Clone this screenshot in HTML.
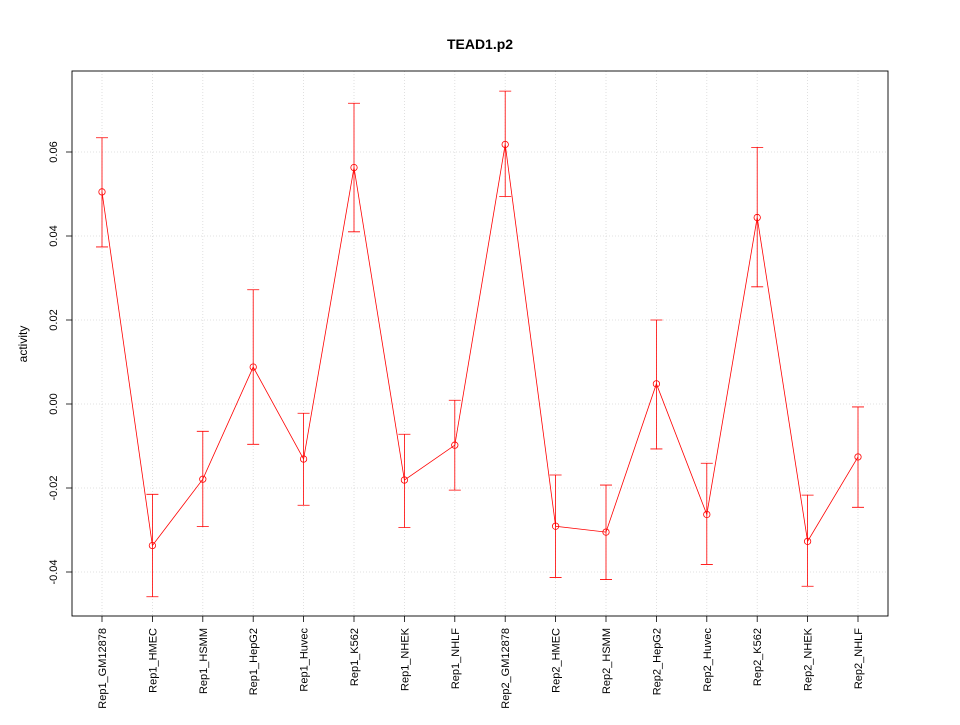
<!DOCTYPE html>
<html><head><meta charset="utf-8"><style>
body{margin:0;background:#fff;}
svg text{font-family:"Liberation Sans",sans-serif;}
</style></head><body>
<svg id="chart" width="960" height="720">
<text x="480" y="49" text-anchor="middle" font-size="14" font-weight="bold">TEAD1.p2</text>
<text transform="translate(27,344) rotate(-90)" text-anchor="middle" font-size="12">activity</text>
<g id="grid"></g><g id="axes"></g><g id="marks"></g>
<rect x="72" y="71" width="816" height="545" fill="none" stroke="#000" stroke-width="0.9"/>
</svg>
<script>
const categories=["Rep1_GM12878","Rep1_HMEC","Rep1_HSMM","Rep1_HepG2","Rep1_Huvec","Rep1_K562","Rep1_NHEK","Rep1_NHLF","Rep2_GM12878","Rep2_HMEC","Rep2_HSMM","Rep2_HepG2","Rep2_Huvec","Rep2_K562","Rep2_NHEK","Rep2_NHLF"];
const values=[0.0505,-0.0337,-0.0179,0.0088,-0.0131,0.0563,-0.0181,-0.0098,0.0618,-0.0291,-0.0305,0.0048,-0.0263,0.0444,-0.0327,-0.0126];
const upper=[0.0634,-0.0215,-0.0065,0.0272,-0.0022,0.0716,-0.0072,0.0009,0.0745,-0.0169,-0.0193,0.0200,-0.0141,0.0611,-0.0217,-0.0007];
const lower=[0.0374,-0.0459,-0.0292,-0.0096,-0.0241,0.0410,-0.0294,-0.0205,0.0494,-0.0413,-0.0418,-0.0107,-0.0382,0.0279,-0.0434,-0.0246];
const yTicks=[-0.04,-0.02,0,0.02,0.04,0.06];
const yTickLabels=["-0.04","-0.02","0.00","0.02","0.04","0.06"];
const NS="http://www.w3.org/2000/svg";
const xs=i=>102+i*(858-102)/(categories.length-1);
const ys=v=>404-v*4200;
function mk(p,t,a){const e=document.createElementNS(NS,t);for(const k in a)e.setAttribute(k,a[k]);p.appendChild(e);return e;}
const grid=document.getElementById('grid'),axes=document.getElementById('axes'),marks=document.getElementById('marks');
yTicks.forEach((v,i)=>{
 const g=mk(grid,'line',{x1:72,x2:888,y1:ys(v),y2:ys(v),stroke:'#d8d8d8','stroke-width':0.8,'stroke-dasharray':'1,2'});
 
 
 const t=mk(axes,'line',{x1:66,x2:72,y1:ys(v),y2:ys(v),stroke:'#000','stroke-width':0.8});
 
 
 const l=mk(axes,'text',{transform:`translate(57,${ys(v)}) rotate(-90)`,'text-anchor':'middle','font-size':'11'});
 l.textContent=yTickLabels[i];
 
 
});
categories.forEach((c,i)=>{
 const x=xs(i);
 const g=mk(grid,'line',{x1:x,x2:x,y1:71,y2:616,stroke:'#d8d8d8','stroke-width':0.8,'stroke-dasharray':'1,2'});
 
 
 const t=mk(axes,'line',{x1:x,x2:x,y1:616,y2:622,stroke:'#000','stroke-width':0.8});
 
 
 const l=mk(axes,'text',{transform:`translate(${x+4},628) rotate(-90)`,'text-anchor':'end','font-size':'11'});
 l.textContent=c;
 
 
});
const pts=values.map((v,i)=>xs(i)+','+ys(v)).join(' ');
const pl=mk(marks,'polyline',{points:pts,fill:'none',stroke:'red','stroke-width':0.8});


values.forEach((v,i)=>{
 const x=xs(i);
 const e=mk(marks,'path',{d:`M${x},${ys(upper[i])}V${ys(lower[i])}M${x-6},${ys(upper[i])}H${x+6}M${x-6},${ys(lower[i])}H${x+6}`,stroke:'red','stroke-width':0.8,fill:'none'});
 
 
 const p=mk(marks,'circle',{cx:x,cy:ys(v),r:3.2,fill:'none',stroke:'red','stroke-width':0.8});
 
 
});
</script>
</body></html>
